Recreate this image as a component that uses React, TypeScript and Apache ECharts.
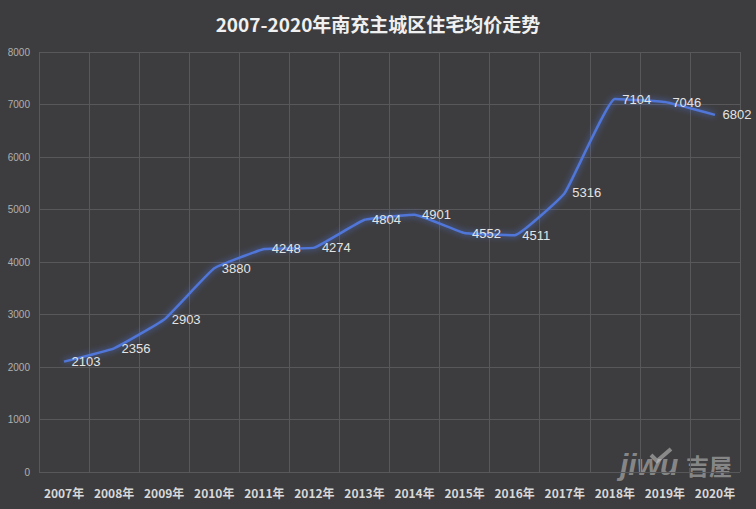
import React, { useEffect, useRef } from "react";
import * as echarts from "echarts";

const title = "2007-2020年南充主城区住宅均价走势";
const years = ["2007年", "2008年", "2009年", "2010年", "2011年", "2012年", "2013年", "2014年", "2015年", "2016年", "2017年", "2018年", "2019年", "2020年"];
const prices = [2103, 2356, 2903, 3880, 4248, 4274, 4804, 4901, 4552, 4511, 5316, 7104, 7046, 6802];
const yTicks = { min: 0, max: 8000, interval: 1000 };

export default function App() {
  const ref = useRef<HTMLDivElement>(null);
  useEffect(() => {
    if (!ref.current) return;
    const chart = echarts.init(ref.current, undefined, { renderer: "svg" });
    chart.setOption({
      animation: false,
      backgroundColor: "#3d3d3f",
      title: {
        text: title,
        left: "center",
        top: 9,
        textStyle: { color: "#f0f0f0", fontSize: 19, fontWeight: "bold", fontFamily: "Noto Sans CJK SC" },
      },
      grid: { left: 39, right: 16, top: 52, bottom: 37 },
      xAxis: {
        type: "category",
        data: years,
        boundaryGap: true,
        axisLine: { show: false },
        axisTick: { show: false },
        axisLabel: { color: "#d8d8d8", fontSize: 12, fontWeight: "bold", margin: 14, interval: 0, fontFamily: "Noto Sans CJK SC" },
        splitLine: { show: true, interval: 0, lineStyle: { color: "#58585b", width: 1 } },
      },
      yAxis: {
        type: "value",
        min: yTicks.min,
        max: yTicks.max,
        interval: yTicks.interval,
        axisLine: { show: false },
        axisTick: { show: false },
        axisLabel: { color: "#b0b0b0", fontSize: 10, margin: 9, fontFamily: "Liberation Sans", formatter: (v: number) => String(v) },
        splitLine: { lineStyle: { color: "#58585b", width: 1 } },
      },
      series: [
        {
          type: "line",
          data: prices,
          smooth: 0.1,
          symbol: "circle",
          symbolSize: 1,
          showSymbol: true,
          itemStyle: { color: "rgba(80,118,216,0)" },
          lineStyle: { color: "#5076d8", width: 2.5, shadowColor: "rgba(80,120,230,0.8)", shadowBlur: 6 },
          label: {
            show: true,
            position: "right",
            distance: 7,
            color: "#e4e4e4",
            fontSize: 13,
            fontFamily: "Liberation Sans",
          },
        },
      ],
      graphic: [
        {
          type: "text",
          left: 620,
          top: 449,
          style: {
            text: "jiwu",
            fill: "rgba(200,200,200,0.55)",
            font: "italic bold 30px Liberation Sans",
          },
        },
        {
          type: "text",
          left: 686,
          top: 453,
          style: {
            text: "吉屋",
            fill: "rgba(200,200,200,0.55)",
            font: "bold 23px Noto Sans CJK SC",
          },
        },
        {
          type: "polyline",
          shape: { points: [[651, 455], [657, 461], [671, 449]] },
          style: { stroke: "rgba(200,200,200,0.55)", lineWidth: 4, fill: "none" },
        },
      ],
    });
    return () => chart.dispose();
  }, []);
  return <div ref={ref} style={{ position: "fixed", left: 0, top: 0, width: 756, height: 509 }} />;
}
